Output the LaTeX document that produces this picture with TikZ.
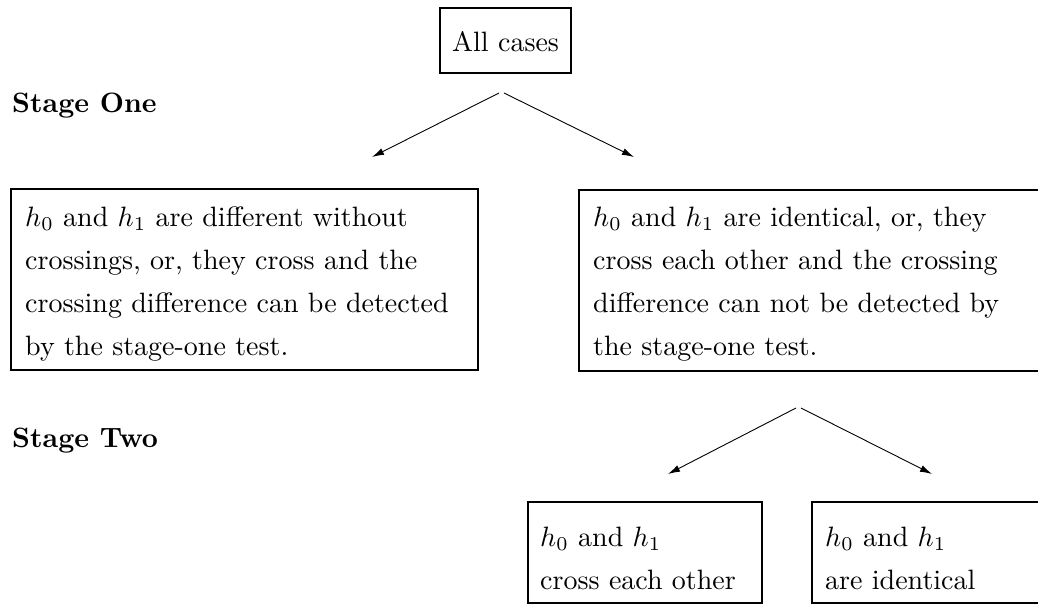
\documentclass[tikz,border=0pt]{standalone}
\usepackage{graphicx}
\usetikzlibrary{arrows.meta}
\newcommand{\bigtxt}[2][170pt]{\scalebox{2.8}{\parbox[t]{#1}{\fontsize{10}{15.46}\selectfont\raggedright #2}}}
\begin{document}
\begin{tikzpicture}[x=1pt,y=-1pt,
  box/.style={draw,line width=1.5pt,inner sep=0pt,anchor=north west},
  txt/.style={inner sep=0pt,anchor=base west},
  arr/.style={line width=0.9pt,-{Latex[length=12pt,width=7pt]}}]
\useasboundingbox (0,0) rectangle (1038,603);
\clip (0,0) rectangle (1038,603);
% boxes
\node[box,minimum width=131pt,minimum height=65pt] (all) at (439,7) {};
\node[box,minimum width=467pt,minimum height=181pt] (L) at (10,188) {};
\node[box,minimum width=467pt,minimum height=181pt] (R) at (578,189) {};
\node[box,minimum width=234pt,minimum height=101pt] (BL) at (527,501) {};
\node[box,minimum width=234pt,minimum height=101pt] (BR) at (811,501) {};
% texts
\node[txt] (allt) at (452,51) {\scalebox{2.8}{All cases}};
\node[txt] (st1) at (12,112) {\scalebox{2.8}{\bfseries Stage One}};
\node[txt] (st2) at (12,447) {\scalebox{2.8}{\bfseries Stage Two}};
\node[txt] (Lt) at (25,226) {\bigtxt{$h_0$ and $h_1$ are different without\\
crossings, or, they cross and the\\
crossing difference can be detected\\
by the stage-one test.}};
\node[txt] (Rt) at (593,226) {\bigtxt{$h_0$ and $h_1$ are identical, or, they\\
cross each other and the crossing\\
difference can not be detected by\\
the stage-one test.}};
\node[txt] (BLt) at (540,546) {\bigtxt[80pt]{$h_0$ and $h_1$\\
cross each other}};
\node[txt] (BRt) at (825,546) {\bigtxt[80pt]{$h_0$ and $h_1$\\
are identical}};
% connectors
\coordinate (s1a) at (499,93);
\coordinate (s1b) at (504,93);
\coordinate (s1l) at (372,157);
\coordinate (s1r) at (634,157);
\coordinate (s2a) at (796,408);
\coordinate (s2b) at (801,408);
\coordinate (s2l) at (668,474);
\coordinate (s2r) at (932,474);
\draw[arr] (s1a) -- (s1l);
\draw[arr] (s1b) -- (s1r);
\draw[arr] (s2a) -- (s2l);
\draw[arr] (s2b) -- (s2r);
\end{tikzpicture}
\end{document}
